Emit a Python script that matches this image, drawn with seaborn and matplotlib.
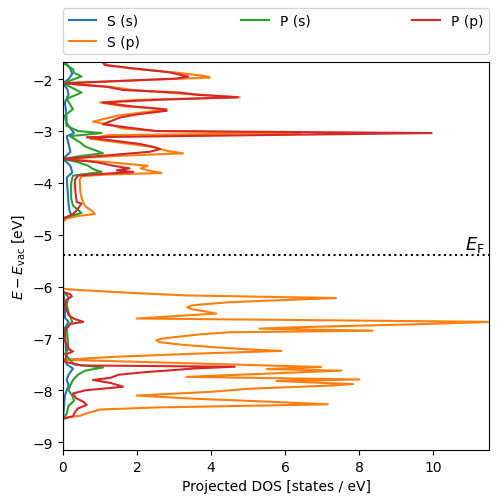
import matplotlib
matplotlib.use("Agg")
import matplotlib.pyplot as plt
import seaborn as sns
import pandas as pd

# ---- data (energy in eV, projected DOS in states/eV) ----
orbitals = ["S (s)", "S (p)", "P (s)", "P (p)"]
colors = ["#1f77b4", "#ff7f0e", "#2ca02c", "#d62728"]
e_fermi = -5.385

e_s_s = [-1.60, -1.71, -1.80, -1.90, -2.00, -2.08, -2.20, -2.30, -2.45, -2.60, -2.85, -3.04, -3.10,
         -3.25, -3.40, -3.54, -3.67, -3.80, -3.90, -4.10, -4.40, -4.55, -4.63, -4.70,
         -6.10, -6.30, -6.60, -6.68, -6.80, -7.50, -7.58, -7.70, -7.80, -7.90, -8.10, -8.55, -9.20]
dos_s_s = [0.05, 0.10, 0.20, 0.25, 0.15, 0.0, 0.12, 0.15, 0.05, 0.08, 0.10, 0.30, 0.10,
           0.15, 0.20, 0.0, 0.20, 0.25, 0.10, 0.12, 0.15, 0.18, 0.23, 0.0,
           0.0, 0.05, 0.05, 0.15, 0.05, 0.10, 0.27, 0.15, 0.10, 0.15, 0.05, 0.0, 0.0]

e_s_p = [-1.60, -1.73, -1.80, -1.87, -1.94, -1.97, -2.01, -2.08, -2.15, -2.21, -2.28, -2.35, -2.40,
         -2.45, -2.52, -2.58, -2.62, -2.70, -2.82, -2.88, -2.95, -3.00, -3.04, -3.08, -3.15, -3.22,
         -3.31, -3.38, -3.43, -3.48, -3.54, -3.60, -3.67, -3.72, -3.76, -3.81, -3.84, -3.87, -3.95,
         -4.05, -4.20, -4.37, -4.45, -4.55, -4.60, -4.64, -4.69, -4.75,
         -6.04, -6.06, -6.12, -6.17, -6.22, -6.30, -6.36, -6.40, -6.44, -6.48, -6.52, -6.57, -6.615,
         -6.68, -6.73, -6.78, -6.81, -6.85, -6.88, -6.92, -6.96, -7.00, -7.03, -7.07, -7.12, -7.17,
         -7.21, -7.24, -7.29, -7.35, -7.41, -7.47, -7.55, -7.59, -7.62, -7.74, -7.79, -7.82, -7.88,
         -7.91, -7.97, -8.03, -8.10, -8.16, -8.22, -8.27, -8.33, -8.37, -8.43, -8.49, -8.53, -9.20]
dos_s_p = [1.0, 1.2, 1.9, 3.0, 3.83, 3.96, 2.5, 0.0, 1.3, 1.9, 3.2, 4.77, 2.0,
           1.0, 1.6, 2.8, 2.4, 1.5, 0.81, 1.27, 1.6, 2.5, 6.4, 1.2, 0.73, 1.5,
           2.43, 2.8, 3.24, 1.5, 0.0, 1.2, 2.29, 2.1, 2.3, 2.66, 1.2, 0.5, 0.45,
           0.46, 0.47, 0.54, 0.6, 0.8, 0.86, 0.4, 0.1, 0.0,
           0.0, 0.3, 1.8, 3.33, 7.37, 4.5, 3.5, 3.35, 3.5, 3.85, 4.14, 3.0, 1.99,
           11.6, 9.35, 6.5, 5.3, 8.36, 4.5, 3.7, 3.2, 2.7, 2.52, 2.6, 3.2, 4.1,
           5.0, 5.9, 3.7, 1.5, 0.0, 3.0, 6.97, 5.5, 7.51, 3.33, 8.0, 5.76, 7.83,
           7.15, 5.0, 3.96, 1.99, 3.5, 5.6, 7.15, 2.5, 1.0, 0.7, 0.46, 0.0, 0.0]

e_p_s = [-1.60, -1.71, -1.81, -1.88, -1.95, -2.00, -2.08, -2.15, -2.26, -2.32, -2.38, -2.50, -2.58,
         -2.70, -2.90, -3.00, -3.04, -3.10, -3.22, -3.30, -3.38, -3.43, -3.48, -3.54, -3.60, -3.67,
         -3.73, -3.79, -3.86, -4.00, -4.30, -4.44, -4.52, -4.58, -4.67, -4.72,
         -6.10, -6.20, -6.35, -6.50, -6.68, -6.80, -7.20, -7.30, -7.50, -7.56, -7.62, -7.70, -7.80,
         -7.90, -8.00, -8.10, -8.20, -8.30, -8.45, -8.55, -9.20]
dos_p_s = [0.02, 0.05, 0.27, 0.30, 0.50, 0.30, 0.0, 0.20, 0.50, 0.30, 0.10, 0.20, 0.27,
           0.05, 0.10, 0.40, 1.04, 0.19, 0.46, 0.60, 0.90, 1.08, 0.50, 0.0, 0.40, 0.68,
           0.80, 1.04, 0.27, 0.22, 0.22, 0.27, 0.40, 0.50, 0.05, 0.0,
           0.0, 0.15, 0.10, 0.15, 0.25, 0.10, 0.15, 0.05, 0.30, 1.08, 0.60, 0.40, 0.27,
           0.20, 0.15, 0.25, 0.30, 0.15, 0.10, 0.0, 0.0]

e_p_p = [-1.60, -1.73, -1.80, -1.87, -1.90, -1.95, -1.99, -2.08, -2.15, -2.21, -2.26, -2.30, -2.35,
         -2.40, -2.45, -2.52, -2.58, -2.61, -2.68, -2.74, -2.87, -2.93, -3.00, -3.04, -3.12, -3.18,
         -3.25, -3.30, -3.35, -3.40, -3.47, -3.54, -3.60, -3.67, -3.72, -3.76, -3.79, -3.83, -3.86,
         -3.95, -4.05, -4.20, -4.37, -4.40, -4.45, -4.55, -4.60, -4.69,
         -6.10, -6.15, -6.19, -6.25, -6.35, -6.45, -6.55, -6.62, -6.68, -6.72, -6.85, -7.05, -7.20,
         -7.25, -7.30, -7.45, -7.52, -7.545, -7.58, -7.61, -7.65, -7.70, -7.76, -7.80, -7.86, -7.93,
         -8.00, -8.06, -8.15, -8.22, -8.28, -8.35, -8.45, -8.50, -8.55, -9.20]
dos_p_p = [1.0, 1.13, 2.0, 2.88, 3.06, 3.38, 3.06, 0.0, 1.2, 1.62, 3.15, 3.6, 4.72,
           2.5, 1.08, 1.8, 2.7, 2.8, 2.0, 1.54, 1.08, 1.72, 2.5, 9.95, 0.64, 1.3,
           2.08, 2.4, 2.62, 2.35, 1.2, 0.0, 0.9, 1.35, 1.8, 1.45, 1.9, 1.0, 0.4,
           0.32, 0.32, 0.34, 0.37, 0.5, 0.45, 0.35, 0.27, 0.0,
           0.0, 0.2, 0.24, 0.1, 0.05, 0.1, 0.15, 0.3, 0.55, 0.2, 0.05, 0.05, 0.15,
           0.27, 0.1, 0.05, 0.5, 4.64, 3.5, 2.97, 2.2, 1.5, 1.27, 0.81, 1.3, 1.62,
           0.6, 0.27, 0.35, 0.55, 0.64, 0.4, 0.3, 0.27, 0.0, 0.0]

series = {
    "S (s)": (e_s_s, dos_s_s),
    "S (p)": (e_s_p, dos_s_p),
    "P (s)": (e_p_s, dos_p_s),
    "P (p)": (e_p_p, dos_p_p),
}
frames = [pd.DataFrame({"energy": e, "dos": d, "orbital": name}) for name, (e, d) in series.items()]
df = pd.concat(frames, ignore_index=True)

fig = plt.figure(figsize=(4.98, 5.02), dpi=100)
ax = fig.add_axes([0.1265, 0.1016, 0.8555, 0.7729])

sns.lineplot(data=df, x="dos", y="energy", hue="orbital", hue_order=orbitals,
             palette=colors, orient="y", estimator=None, sort=True,
             linewidth=1.5, ax=ax)

ax.axhline(e_fermi, color="k", ls=":", lw=1.5)
ax.text(11.4, e_fermi + 0.02, r"$E_\mathrm{F}$", ha="right", va="bottom", fontsize=13)

ax.set_xlim(0, 11.5)
ax.set_ylim(-9.15, -1.67)
ax.set_xlabel("Projected DOS [states / eV]")
ax.set_ylabel(r"$E - E_\mathrm{vac}$ [eV]")

handles, labels = ax.get_legend_handles_labels()
ax.get_legend().remove()
ax.legend(handles, labels, loc="lower left", bbox_to_anchor=(0, 1.02, 1, 0.102),
          ncol=3, mode="expand", borderaxespad=0)

fig.savefig("out.png", dpi=100)
